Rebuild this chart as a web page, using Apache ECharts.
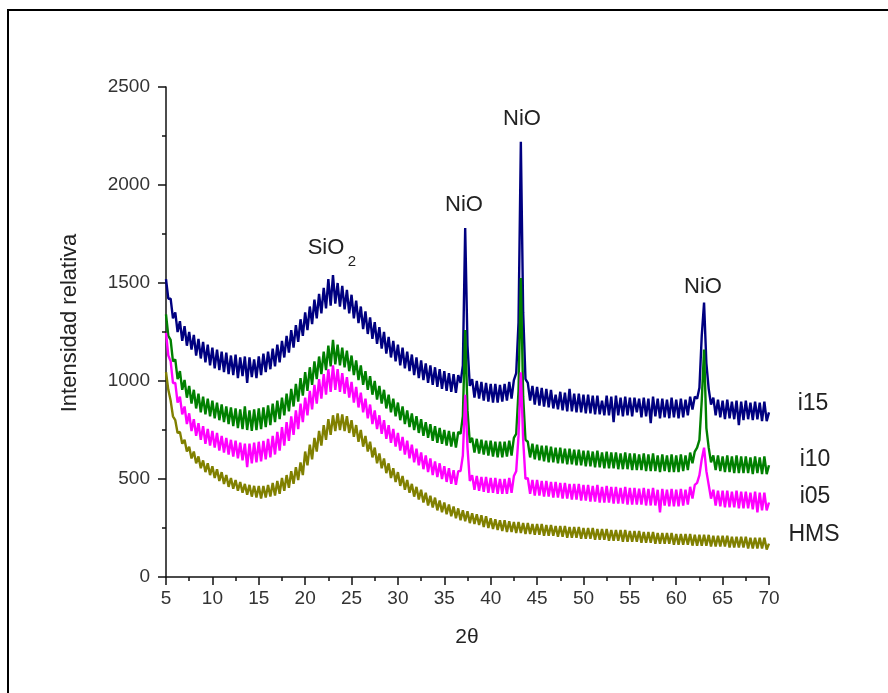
<!DOCTYPE html>
<html>
<head>
<meta charset="utf-8">
<script src="https://cdn.jsdelivr.net/npm/echarts@6/dist/echarts.min.js"></script>
<style>html,body{margin:0;padding:0;background:#fff}#c{width:888px;height:693px}</style>
</head>
<body>
<div id="c"></div>
<script>
// 2-theta grid: 5.00 .. 70.00, step 0.25 (261 points)
const thetaStart = 5, thetaStep = 0.25, thetaCount = 261;
const xTicks = [5,10,15,20,25,30,35,40,45,50,55,60,65,70];
const yTicks = [0,500,1000,1500,2000,2500];
const seriesNames = ['i15','i10','i05','HMS'];
const seriesColors = ['#000080','#008000','#ff00ff','#808000'];

const i15 = [
1520,1420,1420,1320,1350,1250,1305,1205,1280,1180,1250,1160,1235,1130,1215,1115,1200,1095,1185,1080,
1170,1065,1160,1055,1150,1045,1145,1035,1130,1030,1135,1015,1120,1025,1125,990,1120,1020,1110,1015,
1125,1030,1140,1045,1150,1060,1165,1075,1185,1095,1205,1120,1230,1145,1260,1170,1285,1200,1315,1230,
1350,1260,1380,1290,1415,1320,1445,1345,1475,1370,1520,1385,1540,1395,1500,1380,1485,1365,1465,1345,
1440,1320,1410,1295,1380,1265,1355,1240,1325,1215,1300,1190,1275,1165,1250,1140,1225,1120,1205,1100,
1185,1080,1170,1065,1150,1050,1135,1030,1120,1015,1105,1005,1090,990,1080,980,1070,970,1060,960,
1050,950,1040,945,1035,940,1030,990,1080,1780,1180,975,1010,915,1000,910,995,900,990,895,
985,890,985,890,980,895,985,900,995,910,1005,1040,1300,2220,1350,1010,990,900,975,880,
970,875,965,870,960,865,955,860,930,855,945,850,940,845,960,845,935,840,935,840,
930,835,930,835,925,830,925,830,900,825,925,825,920,790,925,825,915,820,920,825,
915,820,915,840,910,815,915,820,910,785,920,820,910,810,910,815,905,810,915,815,
905,810,910,815,905,825,920,855,920,910,965,1230,1400,1090,960,880,915,825,905,815,
900,805,905,810,895,805,900,775,895,800,900,805,890,800,895,805,890,795,895,795,
840];

const i10 = [
1340,1230,1210,1100,1110,1010,1050,955,1005,915,975,885,955,860,935,840,920,830,910,820,
900,810,890,800,880,790,870,780,865,770,860,760,855,755,870,750,850,745,855,750,
860,755,865,765,875,775,885,790,900,805,915,825,935,845,960,870,985,895,1015,925,
1045,950,1070,980,1100,1010,1125,1035,1150,1055,1180,1075,1210,1085,1185,1080,1170,1070,1155,1050,
1130,1030,1105,1005,1080,980,1050,955,1025,930,1000,905,975,885,955,860,930,840,910,820,
890,800,870,780,850,765,835,750,820,735,805,720,790,710,780,695,770,685,760,680,
750,670,745,665,740,660,740,730,820,1260,850,685,710,635,705,630,700,625,695,620,
695,615,690,610,690,610,690,615,695,620,710,730,950,1525,920,700,690,610,680,600,
675,595,670,590,670,585,665,585,660,580,660,580,655,575,655,575,650,570,650,570,
645,565,645,565,640,560,645,560,635,555,640,555,635,555,635,550,630,550,635,550,
630,545,630,545,625,545,630,540,625,540,630,540,620,535,625,540,620,535,625,535,
620,535,625,540,620,545,635,580,640,660,700,900,1160,760,660,585,620,545,620,540,
615,535,620,535,615,530,620,530,615,530,615,530,610,525,615,530,610,525,615,525,
570];

const i05 = [
1245,1130,1100,990,990,890,920,830,870,780,835,745,805,720,785,700,770,680,755,670,
745,660,735,645,720,635,710,625,700,615,695,605,685,595,680,560,680,580,685,585,
690,590,695,600,705,610,720,625,740,645,765,670,790,695,820,725,850,755,885,790,
915,825,950,855,980,885,1010,910,1035,930,1060,945,1080,955,1060,945,1040,935,1020,915,
995,890,970,865,940,840,910,810,880,780,850,755,825,730,800,705,775,685,755,665,
735,645,715,625,695,605,675,585,655,570,635,550,620,535,605,520,590,510,580,500,
565,485,555,475,545,470,540,540,620,930,660,490,520,445,515,440,510,435,510,430,
505,430,505,425,500,425,500,425,505,430,515,540,720,1045,700,500,505,425,495,415,
495,415,490,410,490,410,485,405,485,405,480,400,480,400,475,395,475,395,475,390,
470,390,470,385,465,385,470,380,460,380,465,380,460,375,460,375,455,375,460,370,
455,370,455,370,450,370,455,365,450,365,455,365,445,330,450,365,445,360,450,360,
445,360,450,365,445,370,460,400,470,480,520,600,660,540,470,400,445,365,440,360,
440,355,440,355,435,355,440,350,435,350,435,350,430,345,435,330,430,340,430,340,
380];

const hms = [
1045,955,900,820,800,735,740,680,700,640,665,605,640,580,615,555,595,535,580,520,
565,505,550,490,535,475,520,460,505,450,495,440,485,430,475,420,470,410,465,405,
465,400,465,405,470,410,480,415,490,425,505,440,520,455,540,475,560,495,585,520,
640,570,675,600,710,640,745,670,775,700,805,725,825,745,835,750,830,745,820,735,
800,715,775,690,750,665,720,640,690,610,660,580,630,555,605,530,580,505,555,485,
535,465,515,445,495,430,475,410,460,395,445,380,430,365,415,355,405,340,390,330,
380,320,370,310,360,300,350,290,340,285,335,275,325,270,320,265,315,255,310,250,
300,245,295,240,290,235,290,230,285,230,280,225,280,225,275,220,275,220,270,215,
270,215,270,210,265,210,265,210,260,205,260,205,260,200,255,200,255,200,255,195,
250,195,250,195,250,190,245,190,245,190,245,185,240,185,240,185,240,180,240,180,
235,180,235,180,235,175,230,175,230,175,230,170,225,170,225,170,225,170,225,165,
220,165,220,165,220,165,220,160,215,160,215,160,215,160,215,155,210,155,210,155,
210,155,210,150,205,150,205,150,205,150,205,145,200,145,200,145,200,145,200,140,
170];

const twoTheta = [];
for (let i = 0; i < thetaCount; i++) twoTheta.push(thetaStart + i * thetaStep);

const allSeries = [i15, i10, i05, hms];
const FONT = '"Liberation Sans", Arial, sans-serif';

const chart = echarts.init(document.getElementById('c'), null, {renderer: 'canvas'});

function txt(text, x, y, size, extra) {
  return Object.assign({
    type: 'text', x: x, y: y, z: 100,
    style: {text: text, fontSize: size, fontFamily: FONT, fill: '#222', align: 'center', verticalAlign: 'middle'}
  }, extra || {});
}

const axisCommon = {
  axisLine: {show: true, lineStyle: {color: '#111', width: 1.5}},
  axisTick: {show: true, inside: false, length: 8, lineStyle: {color: '#111', width: 1.5}},
  minorTick: {show: true, splitNumber: 2, length: 4, lineStyle: {color: '#111', width: 1.5}},
  splitLine: {show: false}
};

chart.setOption({
  animation: false,
  backgroundColor: '#fff',
  grid: {left: 166, right: 119, top: 87, bottom: 116, containLabel: false},
  xAxis: Object.assign({
    type: 'value', min: xTicks[0], max: xTicks[xTicks.length - 1], interval: 5,
    axisLabel: {fontSize: 19, fontFamily: FONT, color: '#333', margin: 12, formatter: v => String(v)}
  }, axisCommon),
  yAxis: Object.assign({
    type: 'value', min: yTicks[0], max: yTicks[yTicks.length - 1], interval: 500,
    axisLabel: {fontSize: 19, fontFamily: FONT, color: '#333', margin: 16, formatter: v => String(v)}
  }, axisCommon),
  series: allSeries.map((arr, k) => ({
    name: seriesNames[k],
    type: 'line',
    showSymbol: false,
    symbol: 'none',
    z: 2 + k,
    lineStyle: {color: seriesColors[k], width: 2.4, join: 'bevel'},
    data: twoTheta.map((x, i) => [x, arr[i]])
  })),
  graphic: [
    {type: 'rect', z: 0, shape: {x: 8, y: 10, width: 900, height: 700}, style: {fill: 'none', stroke: '#000', lineWidth: 2}},
    txt('Intensidad relativa', 70, 323, 22, {rotation: Math.PI / 2}),
    txt('2θ', 467, 637, 21),
    txt('SiO', 326, 248, 22),
    txt('2', 352, 262, 15),
    txt('NiO', 464, 205, 22),
    txt('NiO', 522, 119, 22),
    txt('NiO', 703, 287, 22),
    txt('i15', 813, 404, 23),
    txt('i10', 815, 460, 23),
    txt('i05', 815, 497, 23),
    txt('HMS', 814, 535, 23)
  ]
});
</script>
</body>
</html>
